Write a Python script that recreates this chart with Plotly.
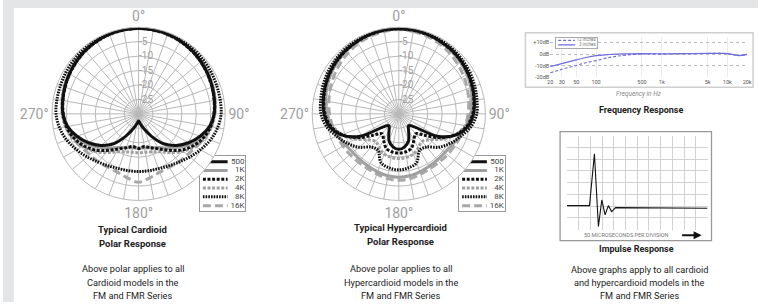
import plotly.graph_objects as go

W, H = 763, 305
FONT = "Roboto, Liberation Sans, Arial, sans-serif"

# ---------------- polar data (dB), angles 0..180 step 10, mirrored for the other half
half_angles = list(range(0, 190, 10))
series_names = ["500", "1K", "2K", "4K", "8K", "16K"]

card_500 = [-0.3, -0.4, -0.6, -0.9, -1.3, -1.8, -2.3, -2.8, -3.3, -3.8, -5.0, -7.3, -10.0, -13.0, -16.5, -21.0, -24.5, -26.5, -27.5]
card_1k  = [-0.2, -0.3, -0.5, -0.8, -1.2, -1.7, -2.2, -2.7, -3.2, -3.7, -4.8, -6.8, -9.2, -12.0, -14.5, -16.5, -17.5, -18.0, -18.2]
card_2k  = [-0.4, -0.5, -0.7, -1.0, -1.4, -1.9, -2.4, -2.9, -3.4, -3.9, -4.6, -6.0, -8.0, -10.5, -13.5, -16.0, -17.5, -18.5, -18.0]
card_4k  = [-0.3, -0.4, -0.6, -0.9, -1.2, -1.6, -2.0, -2.5, -3.0, -3.5, -4.3, -5.5, -7.5, -9.8, -12.5, -14.8, -16.0, -16.5, -16.5]
card_8k  = [-0.3, -0.3, -0.4, -0.5, -0.6, -0.8, -1.0, -1.2, -1.3, -1.4, -2.2, -3.5, -5.2, -6.8, -8.2, -9.2, -9.8, -10.0, -10.0]
card_16k = [-0.5, -0.6, -0.8, -1.1, -1.5, -2.0, -2.5, -3.0, -3.4, -3.8, -4.5, -5.7, -7.0, -8.0, -8.3, -8.7, -8.5, -7.5, -6.3]

hyp_500 = [-0.5, -0.5, -0.7, -1.0, -1.3, -1.7, -2.2, -2.8, -3.4, -4.1, -5.6, -8.8, -14.5, -23.0, -24.7, -23.2, -20.1, -18.4, -17.7]
hyp_1k  = [-0.6, -0.7, -0.9, -1.2, -1.6, -2.1, -2.7, -3.4, -4.2, -5.0, -6.3, -7.6, -8.6, -9.2, -9.2, -9.0, -8.6, -8.2, -8.0]
hyp_2k  = [-0.5, -0.6, -0.8, -1.1, -1.4, -1.8, -2.3, -2.9, -3.6, -4.4, -6.0, -9.0, -13.5, -18.5, -21.0, -19.5, -17.3, -16.6, -16.4]
hyp_4k  = [-0.6, -0.7, -0.9, -1.2, -1.6, -2.1, -2.7, -3.5, -4.3, -5.2, -6.7, -9.0, -12.5, -16.0, -17.5, -16.5, -15.2, -14.7, -14.5]
hyp_8k  = [-0.4, -0.4, -0.5, -0.6, -0.8, -1.1, -1.5, -2.0, -2.5, -3.0, -4.6, -7.2, -9.5, -12.0, -15.0, -15.5, -12.0, -11.0, -10.6]
hyp_16k = [-0.8, -1.0, -1.4, -1.9, -2.6, -3.3, -4.0, -4.7, -5.4, -6.0, -6.6, -7.2, -7.7, -8.0, -8.2, -8.2, -7.8, -7.2, -7.0]

radial_ticks = [-25, -20, -15, -10, -5]
cardinal_labels = {0: "0°", 90: "90°", 180: "180°", 270: "270°"}

# ---------------- frequency response data
freq_hz = [20, 30, 50, 70, 100, 150, 200, 300, 500, 1000, 2000, 5000, 8000, 10000, 13000, 15000, 20000]
resp_3in = [-10.8, -8.2, -5.0, -3.0, -1.4, -0.5, 0.0, 0.2, 0.3, 0.2, 0.3, 0.5, 0.6, 0.4, -0.8, -1.3, -0.3]
resp_12in = [-16.2, -13.2, -9.8, -7.5, -5.7, -3.3, -2.0, -0.8, 0.0, 0.2, 0.3, 0.5, 0.6, 0.4, -0.8, -1.3, -0.3]
freq_tickvals = [20, 30, 50, 100, 500, 1000, 5000, 10000, 20000]
freq_ticktext = ["20", "30", "50", "100", "500", "1k", "5k", "10k", "20k"]
db_tickvals = [10, 0, -10, -20]
db_ticktext = ["+10dB", "0dB", "-10dB", "-20dB"]
freq_series = ["12 inches", "3 inches"]

# ---------------- impulse response data (grid divisions)
imp_t = [0, 1.92, 2.34, 2.68, 2.97, 3.25, 3.53, 3.81, 4.15, 12]
imp_v = [2.05, 2.05, 6.46, 0.28, 2.53, 1.26, 2.05, 1.54, 1.88, 1.83]

# ---------------- styles
colors = ["#111111", "#a0a0a0", "#111111", "#a0a0a0", "#111111", "#a8a8a8"]
dashes = ["solid", "solid", "3px,1.6px", "3px,1.6px", "1.6px,1.1px", "8px,4px"]
widths = [3, 3, 3, 3, 3, 3]
draw_order = [5, 3, 1, 4, 2, 0]
FR_COLOR = "#6d6de0"

def px(x):
    return x / W

def py(y):
    return 1 - y / H

def full(vals):
    return vals + vals[-2::-1]

full_angles = half_angles + [360 - a for a in half_angles[-2::-1]]

fig = go.Figure()

polars = [
    ("polar", [card_500, card_1k, card_2k, card_4k, card_8k, card_16k]),
    ("polar2", [hyp_500, hyp_1k, hyp_2k, hyp_4k, hyp_8k, hyp_16k]),
]
for pname, data in polars:
    for i in draw_order:
        fig.add_trace(go.Scatterpolar(
            r=full(data[i]), theta=full_angles, subplot=pname, mode="lines",
            line=dict(color=colors[i], dash=dashes[i], width=widths[i], shape="spline", smoothing=1),
            showlegend=False, hoverinfo="skip"))

# legend boxes drawn as mini axes
for xa in ["x5", "x6"]:
    ya = "y" + xa[1:]
    for i, name in enumerate(series_names):
        fig.add_trace(go.Scatter(x=[3, 28], y=[i + 1, i + 1], xaxis=xa, yaxis=ya, mode="lines",
                                 line=dict(color=colors[i], dash=dashes[i], width=widths[i]),
                                 showlegend=False, hoverinfo="skip"))
        fig.add_trace(go.Scatter(x=[45], y=[i + 1], xaxis=xa, yaxis=ya, mode="text", text=[name],
                                 textposition="middle left",
                                 textfont=dict(family=FONT, size=8, color="#444"),
                                 showlegend=False, hoverinfo="skip"))

# frequency response
fig.add_trace(go.Scatter(x=freq_hz, y=resp_12in, xaxis="x3", yaxis="y3", mode="lines",
                         line=dict(color=FR_COLOR, width=1.1, dash="3px,2px", shape="spline"),
                         showlegend=False, hoverinfo="skip"))
fig.add_trace(go.Scatter(x=freq_hz, y=resp_3in, xaxis="x3", yaxis="y3", mode="lines",
                         line=dict(color=FR_COLOR, width=1.2, shape="spline"),
                         showlegend=False, hoverinfo="skip"))
fr_dash = ["3px,2px", "solid"]
for i, name in enumerate(freq_series):
    fig.add_trace(go.Scatter(x=[2, 19], y=[i + 1, i + 1], xaxis="x7", yaxis="y7", mode="lines",
                             line=dict(color=FR_COLOR, width=1.1, dash=fr_dash[i]),
                             showlegend=False, hoverinfo="skip"))
    fig.add_trace(go.Scatter(x=[40], y=[i + 1], xaxis="x7", yaxis="y7", mode="text", text=[name],
                             textposition="middle left",
                             textfont=dict(family=FONT, size=4.5, color="#777"),
                             showlegend=False, hoverinfo="skip"))

# impulse response
fig.add_trace(go.Scatter(x=imp_t, y=imp_v, xaxis="x4", yaxis="y4", mode="lines",
                         line=dict(color="#111", width=1.1), showlegend=False, hoverinfo="skip"))

GRID = "#b8b8b8"

def polar_layout(cx, cy, r):
    return dict(
        domain=dict(x=[px(cx - r), px(cx + r)], y=[py(cy + r), py(cy - r)]),
        bgcolor="white",
        angularaxis=dict(rotation=90, direction="clockwise",
                         tickvals=list(range(0, 360, 10)),
                         ticktext=[cardinal_labels.get(a, "") for a in range(0, 360, 10)],
                         showgrid=True, gridcolor=GRID, gridwidth=0.8,
                         showline=True, linecolor=GRID, linewidth=1,
                         ticks="", tickfont=dict(family=FONT, size=14, color="#a0a0a0")),
        radialaxis=dict(range=[-30, 0], tickvals=radial_ticks, ticktext=[str(v) for v in radial_ticks],
                        angle=90, side="clockwise", tickangle=90,
                        showline=False, showgrid=True, gridcolor=GRID, gridwidth=0.8,
                        ticks="", tickfont=dict(family=FONT, size=10, color="#a0a0a0")),
    )

def box_axis(x0, x1, xr):
    return dict(domain=[px(x0), px(x1)], range=xr, showgrid=False, zeroline=False,
                showticklabels=False, showline=True, mirror=True, linecolor="#999", linewidth=1,
                fixedrange=True)

layout = dict(
    width=W, height=H, margin=dict(l=0, r=0, t=0, b=0),
    paper_bgcolor="white", plot_bgcolor="white", showlegend=False,
    font=dict(family=FONT),
    polar=polar_layout(137, 115, 87.5),
    polar2=polar_layout(400, 115, 87.5),
    xaxis3=dict(domain=[px(553), px(752)], type="log", range=[1.30103, 4.30103],
                tickvals=freq_tickvals, ticktext=freq_ticktext, showgrid=True, gridcolor="#ececec",
                zeroline=False, ticks="", tickfont=dict(family=FONT, size=5.5, color="#555"),
                anchor="y3", fixedrange=True),
    yaxis3=dict(domain=[py(78), py(37)], range=[-20, 15], tickvals=db_tickvals, ticktext=db_ticktext,
                showgrid=True, gridcolor="#bbbbbb", griddash="dot", zeroline=False, ticks="",
                tickfont=dict(family=FONT, size=5.5, color="#555"), anchor="x3", fixedrange=True),
    xaxis4=dict(domain=[px(570), px(712)], range=[0, 12], dtick=1, showgrid=True, gridcolor="#d2d2d2",
                zeroline=False, showticklabels=False, ticks="", anchor="y4", fixedrange=True),
    yaxis4=dict(domain=[py(232), py(137)], range=[0, 8], dtick=1, showgrid=True, gridcolor="#d2d2d2",
                zeroline=False, showticklabels=False, ticks="", anchor="x4", fixedrange=True),
    xaxis5=dict(box_axis(199, 245, [0, 46]), anchor="y5"),
    yaxis5=dict(box_axis(0, 0, [6.6, 0.4]), domain=[py(213), py(158)], anchor="x5"),
    xaxis6=dict(box_axis(461, 507, [0, 46]), anchor="y6"),
    yaxis6=dict(box_axis(0, 0, [6.6, 0.4]), domain=[py(213), py(158)], anchor="x6"),
    xaxis7=dict(box_axis(559, 600, [0, 41]), anchor="y7", linecolor="#aaa"),
    yaxis7=dict(box_axis(0, 0, [2.6, 0.4]), domain=[py(48), py(38)], anchor="x7", linecolor="#aaa"),
)
fig.update_layout(**layout)

shapes = [
    dict(type="rect", xref="paper", yref="paper", x0=0, x1=px(11), y0=0, y1=1,
         fillcolor="#e4e5e7", line=dict(width=0), layer="below"),
    dict(type="rect", xref="paper", yref="paper", x0=0, x1=1, y0=py(8), y1=1,
         fillcolor="#e4e5e7", line=dict(width=0), layer="below"),
    dict(type="rect", xref="paper", yref="paper", x0=px(528), x1=px(758), y0=py(88), y1=py(33),
         fillcolor="rgba(0,0,0,0)", line=dict(color="#cfcfcf", width=1.5)),
    dict(type="rect", xref="paper", yref="paper", x0=px(563), x1=px(716), y0=py(243), y1=py(133),
         fillcolor="rgba(0,0,0,0)", line=dict(color="#999", width=1.3)),
]
fig.update_layout(shapes=shapes)

def txt(x, y, s, size, color="#222", bold=False, italic=False):
    if bold:
        s = "<b>" + s + "</b>"
    if italic:
        s = "<i>" + s + "</i>"
    return dict(x=px(x), y=py(y), xref="paper", yref="paper", text=s, showarrow=False,
                xanchor="center", yanchor="middle", font=dict(family=FONT, size=size, color=color))

ann = [
    txt(131, 232, "Typical Cardioid", 9.5, bold=True),
    txt(131, 246, "Polar Response", 9.5, bold=True),
    txt(131, 271, "Above polar applies to all", 9.2),
    txt(131, 285, "Cardioid models in the", 9.2),
    txt(131, 298, "FM and FMR Series", 9.2),
    txt(402, 230, "Typical Hypercardioid", 9.5, bold=True),
    txt(402, 244, "Polar Response", 9.5, bold=True),
    txt(402, 271, "Above polar applies to all", 9.2),
    txt(402, 285, "Hypercardioid models in the", 9.2),
    txt(402, 298, "FM and FMR Series", 9.2),
    txt(643, 95, "Frequency in Hz", 6.5, color="#888", italic=True),
    txt(645, 111, "Frequency Response", 9, bold=True),
    txt(630, 237.5, "50 MICROSECONDS PER DIVISION", 5.5, color="#777"),
    txt(640, 251, "Impulse Response", 9, bold=True),
    txt(643, 272, "Above graphs apply to all cardioid", 9.2),
    txt(643, 285, "and hypercardioid models in the", 9.2),
    txt(643, 298, "FM and FMR Series", 9.2),
    dict(x=px(706), y=py(237.5), xref="paper", yref="paper", ax=-21, ay=0, text="", showarrow=True,
         arrowhead=2, arrowsize=0.8, arrowwidth=2, arrowcolor="#111"),
]
fig.update_layout(annotations=ann)

fig.write_html("out.html", config={"displayModeBar": False},
               post_script="document.body.style.margin='0';document.body.style.overflow='hidden';")
